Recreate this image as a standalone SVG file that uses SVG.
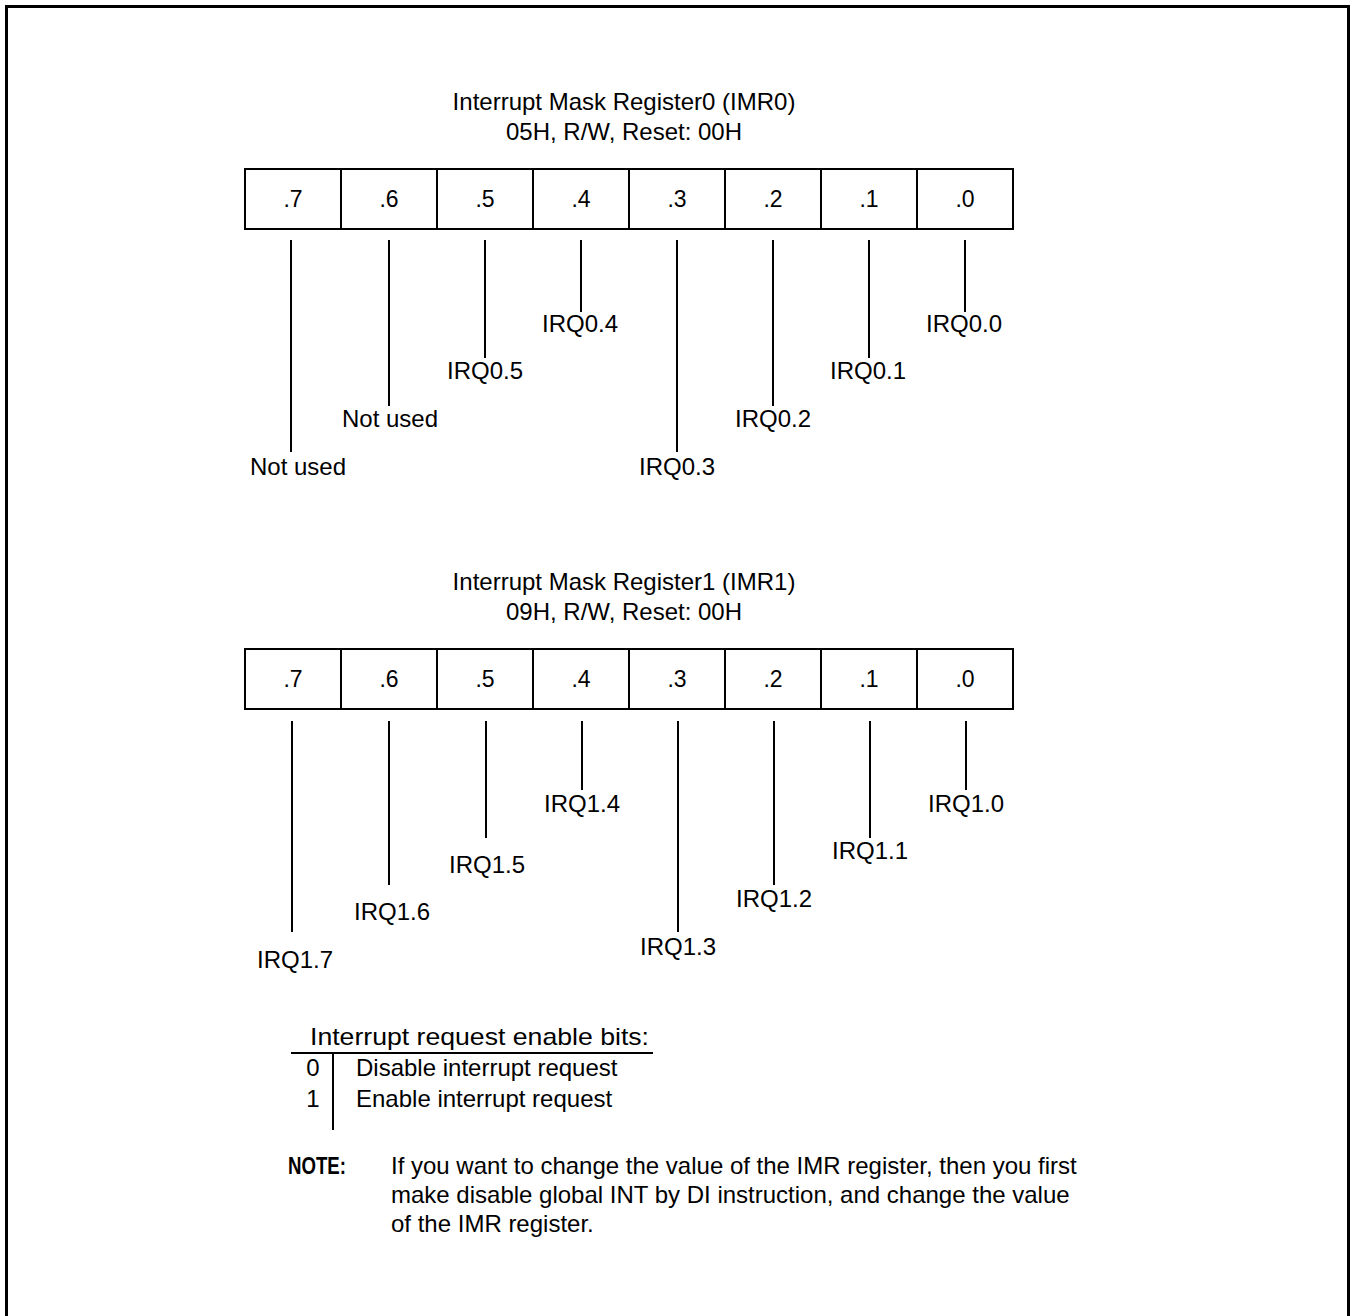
<svg xmlns="http://www.w3.org/2000/svg" width="1355" height="1316" viewBox="0 0 1355 1316">
<style>
text{font-family:"Liberation Sans",Arial,sans-serif;fill:#000}
.t{font-size:24px;text-anchor:middle}
.b{font-size:23px;text-anchor:middle}
.l{font-size:24px;text-anchor:middle}
.n{font-size:24px}
.box{fill:#fff;stroke:#000;stroke-width:2}
.ld{stroke:#000;stroke-width:2;fill:none}
</style>
<rect x="6.5" y="6.5" width="1342" height="1330" fill="#fff" stroke="#000" stroke-width="3"/>

<g id="imr0-title">
<text class="t" x="624" y="110">Interrupt Mask Register0 (IMR0)</text>
<text class="t" x="624" y="140">05H, R/W, Reset: 00H</text>
</g>
<g id="imr0-register">
<rect class="box" x="245" y="169" width="768" height="60"/>
<path class="ld" d="M341 169V229M437 169V229M533 169V229M629 169V229M725 169V229M821 169V229M917 169V229"/>
<text class="b" x="293" y="207">.7</text>
<text class="b" x="389" y="207">.6</text>
<text class="b" x="485" y="207">.5</text>
<text class="b" x="581" y="207">.4</text>
<text class="b" x="677" y="207">.3</text>
<text class="b" x="773" y="207">.2</text>
<text class="b" x="869" y="207">.1</text>
<text class="b" x="965" y="207">.0</text>
</g>
<g id="imr0-labels">
<text class="l" x="298" y="475">Not used</text>
<text class="l" x="390" y="427">Not used</text>
<text class="l" x="485" y="379">IRQ0.5</text>
<text class="l" x="580" y="332">IRQ0.4</text>
<text class="l" x="677" y="475">IRQ0.3</text>
<text class="l" x="773" y="427">IRQ0.2</text>
<text class="l" x="868" y="379">IRQ0.1</text>
<text class="l" x="964" y="332">IRQ0.0</text>
</g>

<g id="imr1-title">
<text class="t" x="624" y="590">Interrupt Mask Register1 (IMR1)</text>
<text class="t" x="624" y="620">09H, R/W, Reset: 00H</text>
</g>
<g id="imr1-register">
<rect class="box" x="245" y="649" width="768" height="60"/>
<path class="ld" d="M341 649V709M437 649V709M533 649V709M629 649V709M725 649V709M821 649V709M917 649V709"/>
<text class="b" x="293" y="687">.7</text>
<text class="b" x="389" y="687">.6</text>
<text class="b" x="485" y="687">.5</text>
<text class="b" x="581" y="687">.4</text>
<text class="b" x="677" y="687">.3</text>
<text class="b" x="773" y="687">.2</text>
<text class="b" x="869" y="687">.1</text>
<text class="b" x="965" y="687">.0</text>
</g>
<g id="imr1-labels">
<text class="l" x="295" y="968">IRQ1.7</text>
<text class="l" x="392" y="920">IRQ1.6</text>
<text class="l" x="487" y="873">IRQ1.5</text>
<text class="l" x="582" y="812">IRQ1.4</text>
<text class="l" x="678" y="955">IRQ1.3</text>
<text class="l" x="774" y="907">IRQ1.2</text>
<text class="l" x="870" y="859">IRQ1.1</text>
<text class="l" x="966" y="812">IRQ1.0</text>
</g>

<g id="connectors">
<path class="ld" d="M291 240V452M389 240V406M485 240V358M581 240V312M677 240V452M773 240V406M869 240V358M965 240V312"/>
<path class="ld" d="M292 721V932M389 721V885M486 721V838M582 721V790M678 721V932M774 721V885M870 721V838M966 721V790"/>
</g>

<g id="legend">
<text class="n" x="310" y="1045" textLength="339" lengthAdjust="spacingAndGlyphs">Interrupt request enable bits:</text>
<path class="ld" d="M291 1053H653M333 1053V1130"/>
<text class="n" x="313" y="1076" text-anchor="middle">0</text>
<text class="n" x="356" y="1076">Disable interrupt request</text>
<text class="n" x="313" y="1107" text-anchor="middle">1</text>
<text class="n" x="356" y="1107">Enable interrupt request</text>
</g>

<g id="note">
<text x="288" y="1174" font-size="24" font-weight="bold" textLength="58" lengthAdjust="spacingAndGlyphs">NOTE:</text>
<text class="n" x="391" y="1174">If you want to change the value of the IMR register, then you first</text>
<text class="n" x="391" y="1203">make disable global INT by DI instruction, and change the value</text>
<text class="n" x="391" y="1232">of the IMR register.</text>
</g>
</svg>
